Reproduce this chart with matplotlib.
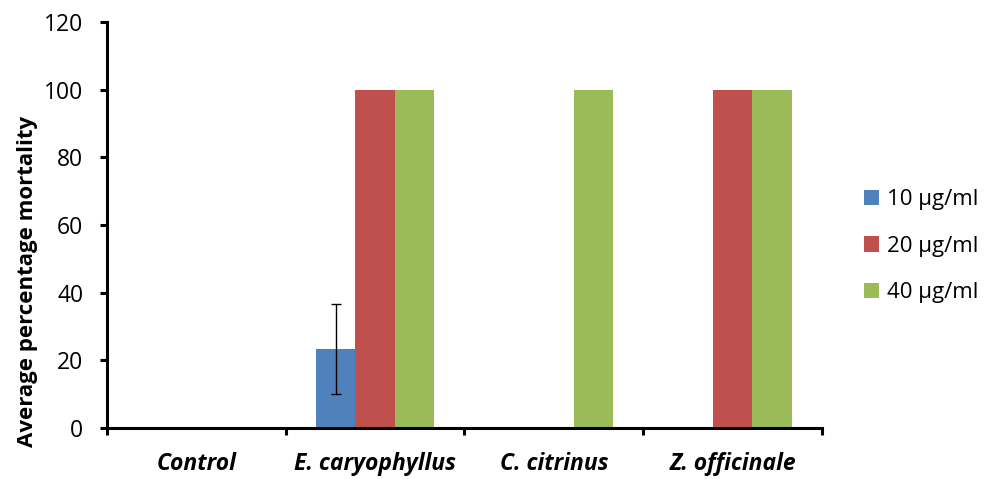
import matplotlib.pyplot as plt
import numpy as np
from matplotlib.patches import Patch

plt.rcParams["font.family"] = ["Open Sans", "DejaVu Sans"]

categories = ["Control", "E. caryophyllus", "C. citrinus", "Z. officinale"]
series_names = ["10 µg/ml", "20 µg/ml", "40 µg/ml"]
colors = ["#4F81BD", "#C0504D", "#9BBB59"]

mort_10 = [0, 23.3, 0, 0]
mort_20 = [0, 100, 0, 100]
mort_40 = [0, 100, 100, 100]
err_10 = [0, 13.3, 0, 0]

values = [mort_10, mort_20, mort_40]

fig = plt.figure(figsize=(9.89, 4.79), dpi=100)
ax = fig.add_axes([0.1082, 0.1065, 0.8311 - 0.1082, 0.954 - 0.1065])

x = np.arange(len(categories))
width = 0.221
for k, (vals, col) in enumerate(zip(values, colors)):
    ax.bar(x + (k - 1) * width, vals, width, color=col, linewidth=0)

# error bar only on E. caryophyllus, 10 µg/ml
idx = 1
ax.errorbar(x[idx] - width, mort_10[idx], yerr=err_10[idx], fmt="none",
            ecolor="black", elinewidth=1, capsize=3.5, capthick=1)

ax.set_xlim(-0.5, len(categories) - 0.5)
ax.set_ylim(0, 120)
ax.set_yticks(np.arange(0, 121, 20))

ax.set_xticks(np.arange(-0.5, len(categories)), labels=[])
ax.set_xticks(x, labels=categories, minor=True)
ax.tick_params(axis="x", which="minor", length=0, pad=17)
for lab in ax.get_xticklabels(minor=True):
    lab.set_fontstyle("italic")
    lab.set_fontweight("bold")
    lab.set_fontsize(16.5)

ax.tick_params(axis="both", which="major", direction="out", length=5,
               width=2.2, labelsize=16.5)
ax.tick_params(axis="y", pad=12)

for side in ["top", "right"]:
    ax.spines[side].set_visible(False)
for side in ["left", "bottom"]:
    ax.spines[side].set_linewidth(2.2)

ax.set_ylabel("Average percentage mortality", fontsize=16, fontweight="bold")
ax.yaxis.set_label_coords(-0.097, 0.362)

handles = [Patch(facecolor=c, edgecolor="none") for c in colors]
fig.legend(handles, series_names, loc="center left",
           bbox_to_anchor=(0.874, 0.486), frameon=False, fontsize=16,
           borderpad=0, borderaxespad=0,
           handlelength=0.68, handleheight=0.68, handletextpad=0.35,
           labelspacing=1.15)

fig.savefig("out.png", dpi=100)
